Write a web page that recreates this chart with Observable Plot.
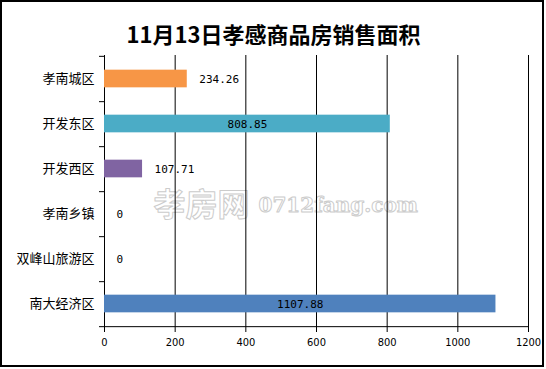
<!DOCTYPE html>
<html>
<head>
<meta charset="utf-8">
<script src="https://cdn.jsdelivr.net/npm/d3@7"></script>
<script src="https://cdn.jsdelivr.net/npm/@observablehq/plot@0.6"></script>
<style>
  html, body { margin: 0; padding: 0; background: #fff; }
  #wrap { position: relative; width: 546px; height: 369px; }
  #border { position: absolute; left: 0; top: 0; width: 540px; height: 363px; border: 2px solid #000; pointer-events: none; }
</style>
</head>
<body>
<div id="wrap"><div id="chart"></div><div id="border"></div></div>
<script>
const title = "11月13日孝感商品房销售面积";
const categories = ["孝南城区", "开发东区", "开发西区", "孝南乡镇", "双峰山旅游区", "南大经济区"];
const values = [234.26, 808.85, 107.71, 0, 0, 1107.88];
const labels = ["234.26", "808.85", "107.71", "0", "0", "1107.88"];
const colors = ["#F79646", "#4BACC6", "#8064A2", "#8064A2", "#8064A2", "#4F81BD"];
const xTicks = [0, 200, 400, 600, 800, 1000, 1200];
const watermark = ["孝房网", "0712fang.com"];

const data = categories.map((c, i) => ({cat: c, value: values[i], label: labels[i], color: colors[i]}));

const W = 546, H = 369, mt = 55, mb = 42, ml = 104, mr = 18;
const step = (H - mt - mb) / categories.length;
const barH = 18;
const inset = (step - barH) / 2;
const insideMin = 500;
const frameCx = ml + (W - ml - mr) / 2;

const chart = Plot.plot({
  width: W,
  height: H,
  marginTop: mt,
  marginBottom: mb,
  marginLeft: ml,
  marginRight: mr,
  style: {fontFamily: "'Noto Sans CJK SC', sans-serif", color: "#000", background: "transparent"},
  x: {domain: [0, 1200], axis: null, label: null},
  y: {domain: categories, padding: 0, axis: null, label: null},
  marks: [
    // watermark
    Plot.text([watermark[0]], {frameAnchor: "middle", dx: 201 - frameCx, dy: 14, text: d => d, fontSize: 32, fontWeight: "bold", fill: "none", stroke: "#cccccc", strokeWidth: 1, fontFamily: "'Noto Sans CJK SC', sans-serif"}),
    Plot.text([watermark[1]], {frameAnchor: "middle", dx: 258 - frameCx, dy: 14, textAnchor: "start", text: d => d, fontSize: 20, fontWeight: "bold", fill: "none", stroke: "#cccccc", strokeWidth: 1, fontFamily: "'DejaVu Serif', serif"}),
    // grid lines
    Plot.ruleX(xTicks, {stroke: "#000", strokeWidth: 1}),
    // bottom axis line
    Plot.ruleY([categories[categories.length - 1]], {dy: step / 2, stroke: "#000"}),
    // x axis
    Plot.axisX(xTicks, {tickSize: 5, tickPadding: 6, fontSize: 11, label: null, tickFormat: d => String(d), fontFamily: "'Liberation Sans Narrow', 'DejaVu Sans Condensed', sans-serif"}),
    // y axis labels
    Plot.axisY({tickSize: 0, tickPadding: 10, fontSize: 13, label: null}),
    // y ticks at band boundaries
    Plot.axisY({text: null, tickSize: 5, dy: step / 2, label: null}),
    Plot.axisY([categories[0]], {text: null, tickSize: 5, dy: -step / 2, label: null}),
    // bars
    Plot.barX(data, {x: "value", y: "cat", fill: "color", insetTop: inset, insetBottom: inset}),
    // labels inside
    Plot.text(data.filter(d => d.value > insideMin), {x: d => d.value / 2, y: "cat", text: "label", fontSize: 11, fill: "#000", fontFamily: "'DejaVu Sans Mono', monospace"}),
    // labels outside
    Plot.text(data.filter(d => d.value <= insideMin), {x: "value", y: "cat", text: "label", textAnchor: "start", dx: 12, fontSize: 11, fill: "#000", fontFamily: "'DejaVu Sans Mono', monospace"}),
    // title
    Plot.text([title], {frameAnchor: "top", dx: 273 - frameCx, dy: -28, text: d => d, fontSize: 22, fontWeight: "bold", fill: "#000", fontFamily: "'Noto Sans CJK SC', sans-serif"})
  ]
});
document.getElementById("chart").appendChild(chart);
</script>
</body>
</html>
